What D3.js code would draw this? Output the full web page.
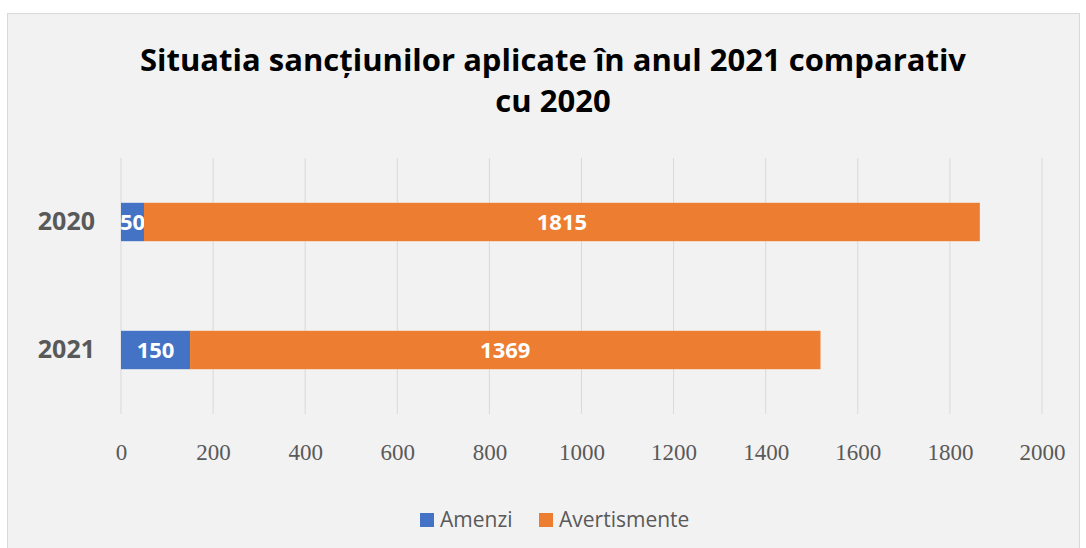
<!DOCTYPE html>
<html>
<head>
  <title>Situatia sancțiunilor</title>
  <script src="https://d3js.org/d3.v7.min.js"></script>
  <style>
    body { margin: 0; background: #fff; }
  </style>
</head>
<body>
  <div id="chart"></div>
  <script>
    // data
    const years = ["2020", "2021"];
    const amenzi = [50, 150];
    const avertismente = [1815, 1369];
    const seriesNames = ["Amenzi", "Avertismente"];
    const seriesColors = ["#4472c4", "#ed7d31"];
    const xTicks = [0, 200, 400, 600, 800, 1000, 1200, 1400, 1600, 1800, 2000];
    const titleLines = ["Situatia sancțiunilor aplicate în anul 2021 comparativ", "cu 2020"];

    const width = 1086, height = 548;
    const plot = { left: 121, right: 1042, top: 158, bottom: 414 };

    const svg = d3.select("#chart").append("svg")
      .attr("width", width)
      .attr("height", height);

    // chart area
    svg.append("rect")
      .attr("x", 7.5).attr("y", 13.5)
      .attr("width", 1072).attr("height", 540)
      .attr("fill", "#f2f2f2")
      .attr("stroke", "#d9d9d9");

    // title
    svg.append("g").selectAll("text")
      .data(titleLines)
      .enter().append("text")
      .attr("x", 553)
      .attr("y", (d, i) => 71 + i * 41)
      .attr("text-anchor", "middle")
      .attr("font-family", "'Open Sans', sans-serif")
      .attr("font-weight", "bold")
      .attr("font-size", 31)
      .attr("fill", "#000")
      .text(d => d);

    const x = d3.scaleLinear().domain([0, 2000]).range([plot.left, plot.right]);
    const y = d3.scaleBand().domain(years).range([plot.top, plot.bottom]).paddingInner(0.7).paddingOuter(0.35);

    // gridlines
    svg.append("g").selectAll("line")
      .data(xTicks)
      .enter().append("line")
      .attr("x1", d => x(d)).attr("x2", d => x(d))
      .attr("y1", plot.top).attr("y2", plot.bottom)
      .attr("stroke", "#d9d9d9")
      .attr("stroke-width", 1);

    // x axis labels
    const xAxis = svg.append("g")
      .attr("transform", `translate(0,${plot.bottom})`)
      .call(d3.axisBottom(x).tickValues(xTicks).tickFormat(d3.format("d")).tickSize(0).tickPadding(30));
    xAxis.select(".domain").remove();
    xAxis.selectAll("text")
      .attr("font-family", "'Liberation Serif', serif")
      .attr("font-size", 23)
      .attr("fill", "#595959");

    // y axis labels
    const yAxis = svg.append("g")
      .attr("transform", `translate(${plot.left},0)`)
      .call(d3.axisLeft(y).tickSize(0).tickPadding(26));
    yAxis.select(".domain").remove();
    yAxis.selectAll("text")
      .attr("font-family", "'Open Sans', sans-serif")
      .attr("font-weight", "bold")
      .attr("font-size", 25)
      .attr("fill", "#595959");

    // stacked bars
    const rows = years.map((yr, i) => ({ year: yr, Amenzi: amenzi[i], Avertismente: avertismente[i] }));
    const stacked = d3.stack().keys(seriesNames)(rows);

    const layers = svg.append("g").selectAll("g")
      .data(stacked)
      .enter().append("g")
      .attr("fill", (d, i) => seriesColors[i]);

    layers.selectAll("rect")
      .data(d => d)
      .enter().append("rect")
      .attr("x", d => x(d[0]))
      .attr("y", d => y(d.data.year))
      .attr("width", d => x(d[1]) - x(d[0]))
      .attr("height", y.bandwidth());

    layers.selectAll("text")
      .data(d => d)
      .enter().append("text")
      .attr("x", d => (x(d[0]) + x(d[1])) / 2)
      .attr("y", d => y(d.data.year) + y.bandwidth() / 2)
      .attr("dy", "0.36em")
      .attr("text-anchor", "middle")
      .attr("font-family", "'Open Sans', sans-serif")
      .attr("font-weight", "bold")
      .attr("font-size", 22)
      .attr("fill", "#fff")
      .text(d => d[1] - d[0]);

    // legend
    const legendX = [420, 539];
    const legend = svg.append("g").selectAll("g")
      .data(seriesNames)
      .enter().append("g")
      .attr("transform", (d, i) => `translate(${legendX[i]},513)`);
    legend.append("rect")
      .attr("width", 14).attr("height", 14)
      .attr("fill", (d, i) => seriesColors[i]);
    legend.append("text")
      .attr("x", 20).attr("y", 14)
      .attr("font-family", "'Open Sans', sans-serif")
      .attr("font-size", 21)
      .attr("fill", "#595959")
      .text(d => d);
  </script>
</body>
</html>
